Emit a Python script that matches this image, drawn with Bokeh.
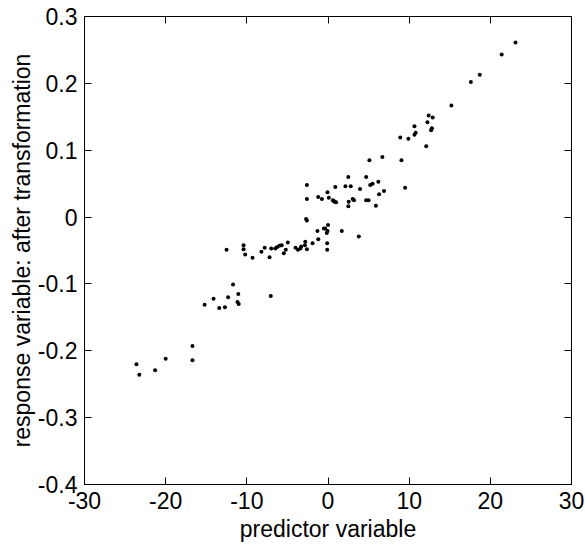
from bokeh.plotting import figure
from bokeh.models import LinearAxis, FixedTicker, Range1d, ColumnDataSource
from bokeh.embed import file_html
from bokeh.resources import INLINE

# predictor values (x) and transformed response values (y)
x_vals = [
    -23.6, -23.25, -21.3, -20.0, -16.7, -16.7,
    -15.2, -14.1, -13.4, -12.7, -12.3, -11.7, -11.05, -11.0, -11.15, -7.05,
    -12.5, -10.4, -10.4, -10.2, -9.3, -8.2, -7.8, -7.2, -7.0, -6.5, -6.3, -6.0,
    -5.7, -5.45, -5.2, -4.95, -4.0, -3.7, -3.4, -2.85, -2.8, -2.6, -3.3, -1.9,
    -1.2, -1.3, -0.5,
    -2.6, -2.6, -2.7, -2.6, -1.2, -0.75, -0.06, 0.1, 0.6, 0.7, 0.8, 1.0, 0.9,
    0.0, -0.35, -0.06, -0.15, -0.1, -0.1, 1.7, 3.8,
    2.15, 2.8, 2.5, 3.05, 3.2, 2.55, 2.5, 3.95, 4.7, 4.7, 5.0, 5.1, 5.2, 5.5,
    6.2, 5.9, 6.3, 6.9, 6.7, 9.05, 9.5, 8.9, 9.9, 10.65, 10.8, 10.65, 12.1,
    12.25, 12.4, 12.9, 12.8, 12.7, 15.2, 17.6, 18.7, 21.4, 23.1,
]
y_vals = [
    -0.220, -0.236, -0.229, -0.212, -0.193, -0.214,
    -0.131, -0.122, -0.136, -0.135, -0.120, -0.101, -0.115, -0.130, -0.127, -0.118,
    -0.049, -0.042, -0.048, -0.056, -0.061, -0.052, -0.046, -0.060, -0.047, -0.047,
    -0.045, -0.043, -0.042, -0.054, -0.049, -0.038, -0.046, -0.049, -0.047, -0.042,
    -0.037, -0.048, -0.044, -0.039, -0.033, -0.021, -0.017,
    0.048, 0.027, -0.003, -0.005, 0.030, 0.027, 0.037, 0.029, 0.025, 0.024, 0.023,
    0.022, 0.045, -0.012, -0.017, -0.021, -0.024, -0.039, -0.049, -0.021, -0.029,
    0.046, 0.046, 0.060, 0.027, 0.025, 0.023, 0.016, 0.042, 0.060, 0.025, 0.025,
    0.085, 0.048, 0.050, 0.053, 0.017, 0.034, 0.039, 0.090, 0.085, 0.044, 0.119,
    0.117, 0.123, 0.126, 0.136, 0.106, 0.142, 0.152, 0.149, 0.133, 0.130, 0.167,
    0.202, 0.213, 0.243, 0.261,
]

x_ticks = [-30, -20, -10, 0, 10, 20, 30]
x_tick_labels = ["-30", "-20", "-10", "0", "10", "20", "30"]
y_ticks = [-0.4, -0.3, -0.2, -0.1, 0, 0.1, 0.2, 0.3]
y_tick_labels = ["-0.4", "-0.3", "-0.2", "-0.1", "0", "0.1", "0.2", "0.3"]

FONT = "Liberation Sans"
FS = "23px"

p = figure(width=585, height=550, output_backend="svg", toolbar_location=None,
           x_range=Range1d(-30, 30), y_range=Range1d(-0.4, 0.3),
           min_border_left=84, min_border_right=14, min_border_top=16,
           min_border_bottom=66)
p.background_fill_color = "white"
p.border_fill_color = "white"
p.outline_line_color = "black"
p.outline_line_width = 1
p.xgrid.visible = False
p.ygrid.visible = False

src = ColumnDataSource(data=dict(x=x_vals, y=y_vals))
p.scatter("x", "y", source=src, size=4, marker="circle",
          fill_color="black", line_color=None)

def style(ax, ticks, labels, show_labels=True):
    ax.ticker = FixedTicker(ticks=ticks)
    ax.minor_tick_line_color = None
    ax.major_tick_in = 7
    ax.major_tick_out = 0
    ax.major_tick_line_color = "black"
    ax.axis_line_color = "black"
    if show_labels:
        ax.major_label_overrides = {t: l for t, l in zip(ticks, labels)}
        ax.major_label_text_font = FONT
        ax.major_label_text_font_size = FS
        ax.major_label_text_color = "black"
        ax.axis_label_text_font = FONT
        ax.axis_label_text_font_size = FS
        ax.axis_label_text_font_style = "normal"
        ax.axis_label_text_color = "black"
    else:
        ax.major_label_overrides = {t: "" for t in ticks}
        ax.major_label_text_font_size = "1px"
        ax.major_label_standoff = 0

xa = p.xaxis[0]
style(xa, x_ticks, x_tick_labels)
xa.axis_label = "predictor variable"
xa.major_label_standoff = 7
xa.axis_label_standoff = 4

ya = p.yaxis[0]
style(ya, y_ticks, y_tick_labels)
ya.axis_label = "response variable: after transformation"
ya.major_label_standoff = 7
ya.axis_label_standoff = 0

top = LinearAxis()
style(top, x_ticks, x_tick_labels, show_labels=False)
p.add_layout(top, "above")
right = LinearAxis()
style(right, y_ticks, y_tick_labels, show_labels=False)
p.add_layout(right, "right")

open("out.html", "w").write(file_html(p, INLINE))
